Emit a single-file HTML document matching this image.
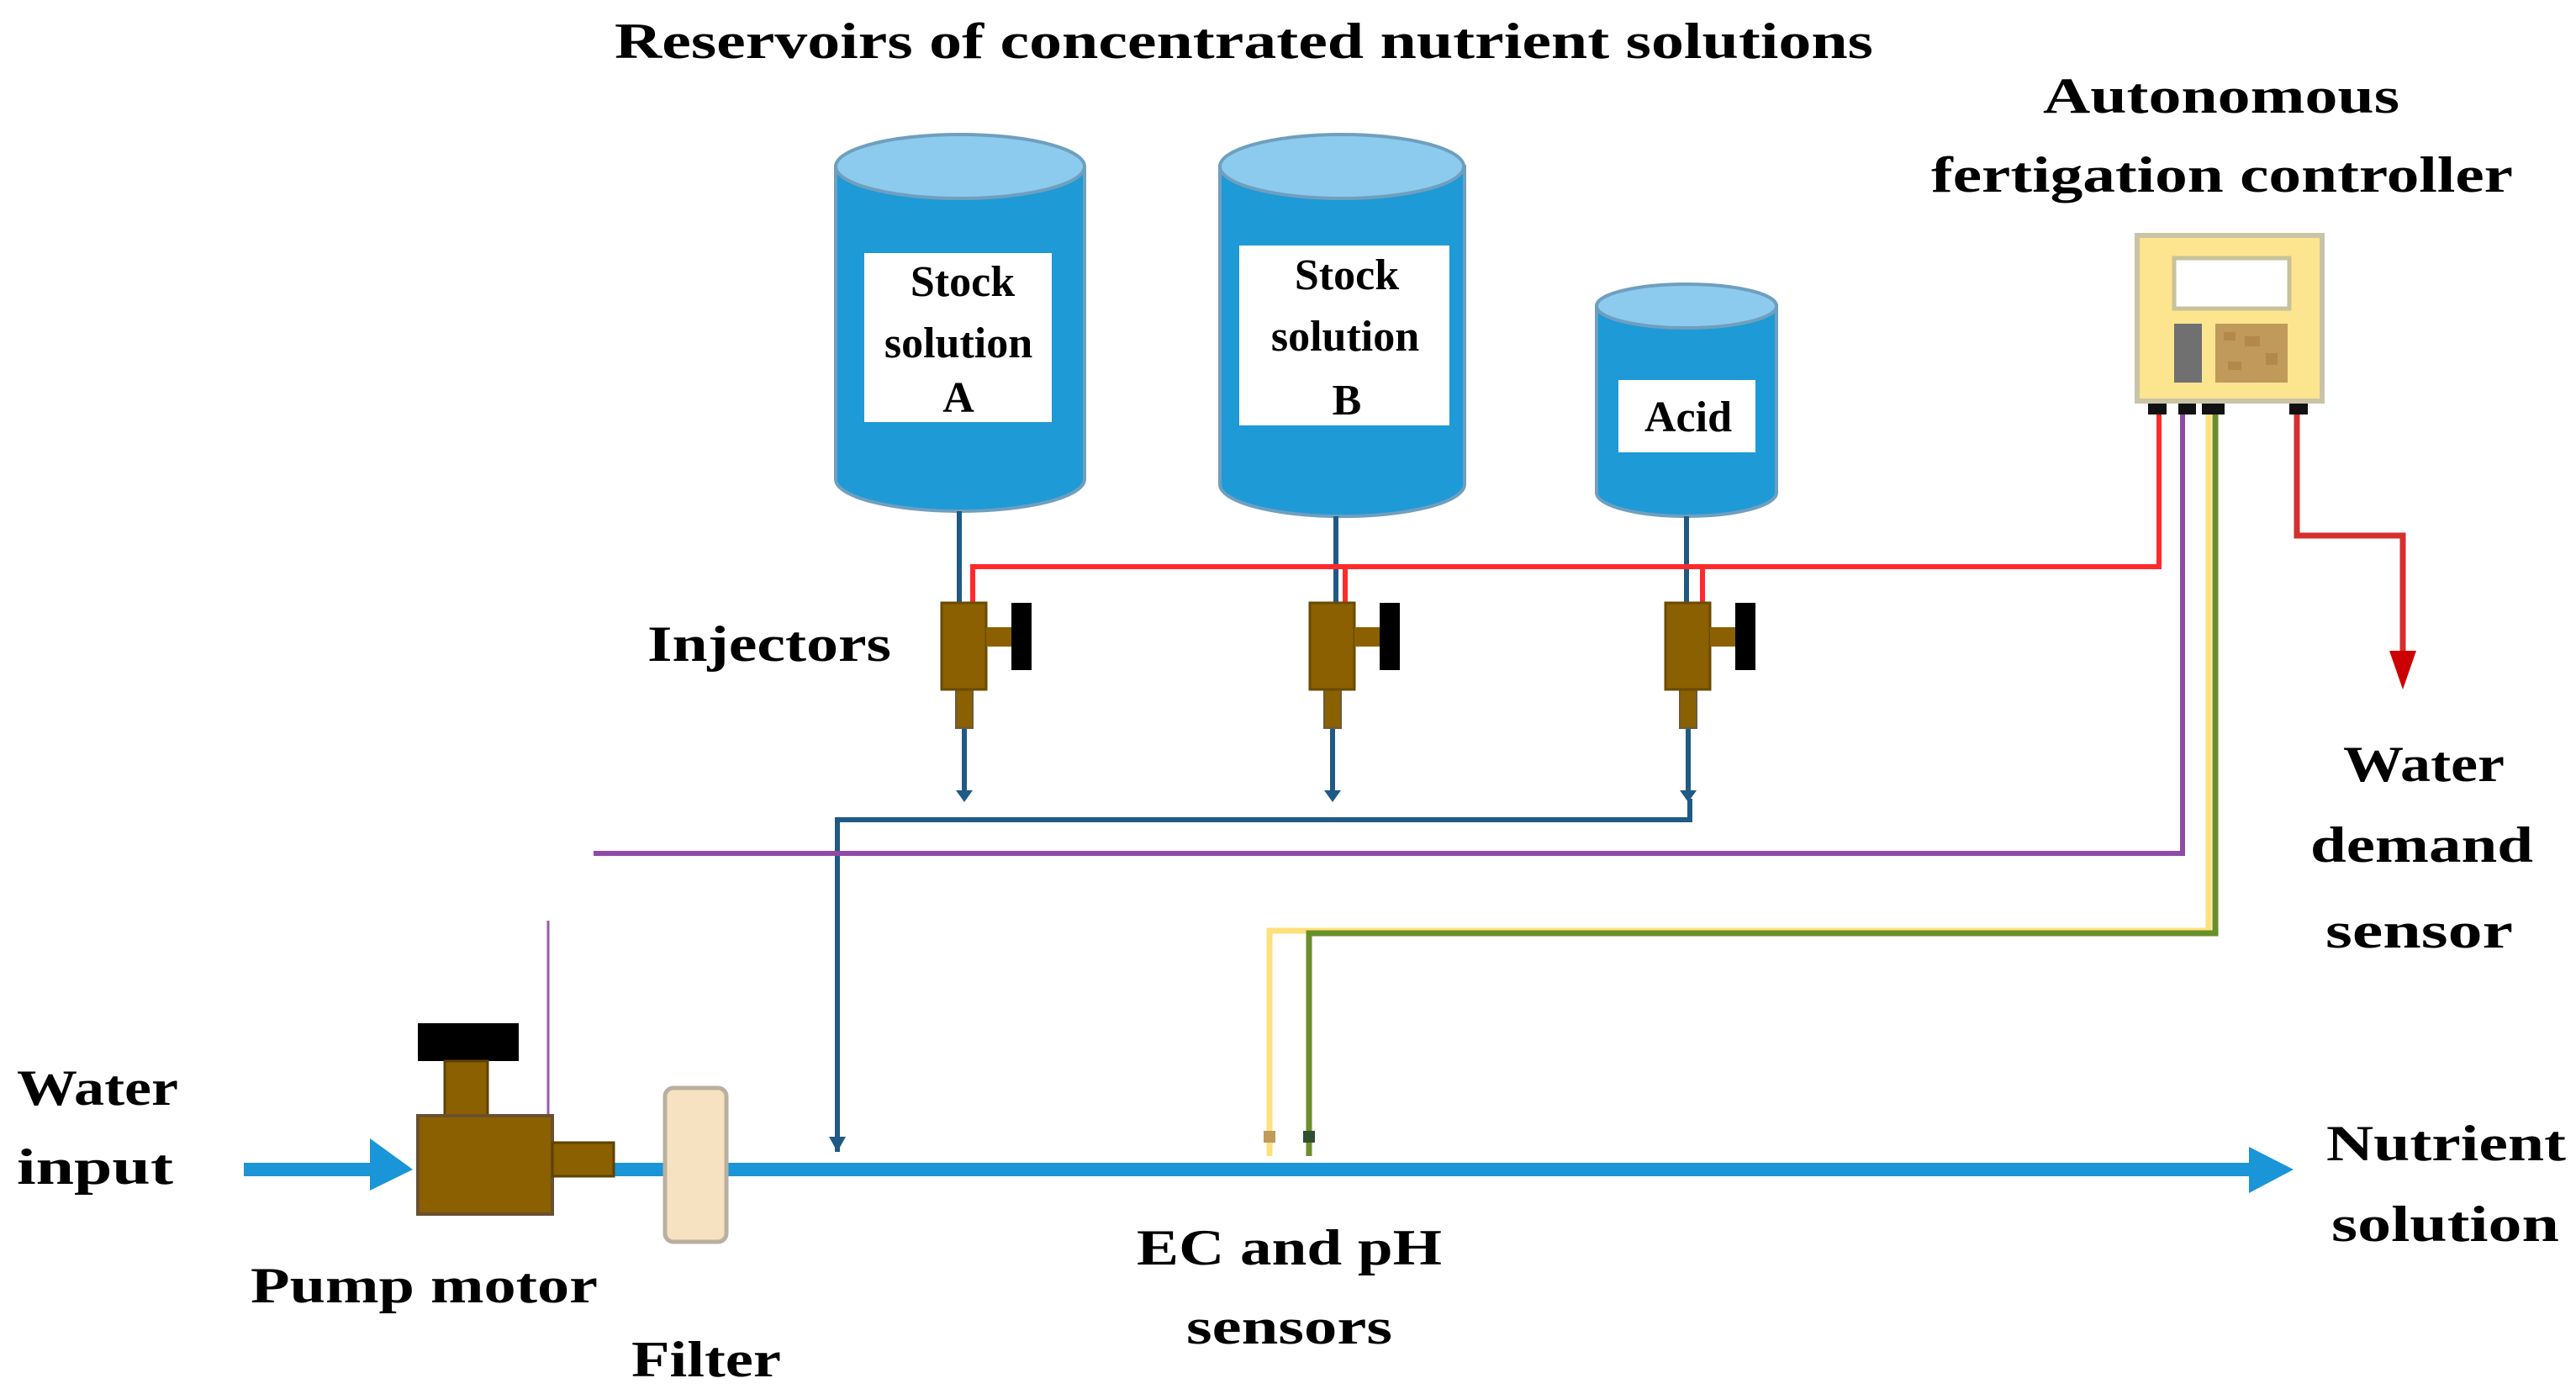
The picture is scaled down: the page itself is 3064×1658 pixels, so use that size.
<!DOCTYPE html>
<html><head><meta charset="utf-8"><style>html,body{margin:0;padding:0;background:#fff}svg{display:block}</style></head>
<body>
<svg width="3064" height="1658" viewBox="0 0 3064 1658" xmlns="http://www.w3.org/2000/svg" font-family="'Liberation Serif', serif" font-weight="bold" fill="#000">
<text x="731" y="69" font-size="60" textLength="1497" lengthAdjust="spacingAndGlyphs">Reservoirs of concentrated nutrient solutions</text>
<text x="2430" y="134" font-size="60" textLength="424" lengthAdjust="spacingAndGlyphs">Autonomous</text>
<text x="2297" y="228" font-size="60" textLength="692" lengthAdjust="spacingAndGlyphs">fertigation controller</text>

<g stroke="#6f9fbf" stroke-width="4">
  <path d="M994 198 V570 A148 38 0 0 0 1290 570 V198 Z" fill="#1e9ad6"/>
  <ellipse cx="1142" cy="198" rx="148" ry="38" fill="#8ccbee"/>
  <path d="M1451 198 V576 A145 38 0 0 0 1742 576 V198 Z" fill="#1e9ad6"/>
  <ellipse cx="1596" cy="198" rx="145" ry="38" fill="#8ccbee"/>
  <path d="M1899 364 V586 A107 28 0 0 0 2113 586 V364 Z" fill="#1e9ad6"/>
  <ellipse cx="2006" cy="364" rx="107" ry="26" fill="#8ccbee"/>
</g>
<rect x="1028" y="301" width="223" height="201" fill="#fff"/>
<rect x="1474" y="292" width="250" height="214" fill="#fff"/>
<rect x="1925" y="452" width="163" height="86" fill="#fff"/>
<g font-size="52" text-anchor="middle">
<text x="1145" y="352">Stock</text><text x="1140" y="425">solution</text><text x="1140" y="490">A</text>
<text x="1602" y="344">Stock</text><text x="1600" y="417">solution</text><text x="1602" y="493">B</text>
<text x="2008" y="513">Acid</text>
</g>

<g stroke="#1f5a86" stroke-width="6" fill="none">
  <path d="M1141 608 V720"/><path d="M1589 614 V720"/><path d="M2006 614 V720"/>
  <path d="M1147 866 V945"/><path d="M1585 866 V945"/><path d="M2008 866 V945"/>
  <path d="M996 1370 V975 H2010 V950"/>
</g>
<g fill="#1f5a86">
  <path d="M1137 940 h20 l-10 14 z"/><path d="M1575 940 h20 l-10 14 z"/><path d="M1998 940 h20 l-10 14 z"/>
  <path d="M986 1352 h20 l-10 18 z"/>
</g>

<g stroke="#ff2a2a" stroke-width="6" fill="none">
  <path d="M1157 717 V674 H2568 V493"/>
  <path d="M1600 674 V717"/><path d="M2025 674 V717"/>
</g>
<path d="M2732 493 V637 H2858 V790" stroke="#d62f2f" stroke-width="7" fill="none"/>
<path d="M2842 774 h32 l-16 46 z" fill="#cc0000"/>

<g id="inj">
  <rect x="1137" y="820" width="20" height="46" fill="#8a6000" stroke="#6b5a40" stroke-width="2"/>
  <rect x="1120" y="717" width="53" height="103" fill="#8a6000" stroke="#6b4a00" stroke-width="3"/>
  <rect x="1173" y="746" width="30" height="23" fill="#8a6000"/>
  <rect x="1203" y="717" width="24" height="80" fill="#000"/>
</g>
<use href="#inj" x="438"/>
<use href="#inj" x="861"/>

<text x="770" y="786" font-size="60" textLength="290" lengthAdjust="spacingAndGlyphs">Injectors</text>

<rect x="2542" y="280" width="220" height="197" fill="#fde48f" stroke="#c9c4a6" stroke-width="6"/>
<rect x="2586" y="307" width="137" height="60" fill="#fff" stroke="#c8c29a" stroke-width="5"/>
<rect x="2586" y="385" width="33" height="70" fill="#707070"/>
<rect x="2635" y="385" width="86" height="70" fill="#c09a5a"/>
<g fill="#b48848"><rect x="2645" y="395" width="14" height="10"/><rect x="2670" y="400" width="18" height="12"/><rect x="2695" y="420" width="14" height="14"/><rect x="2650" y="430" width="16" height="10"/></g>
<g fill="#111"><rect x="2555" y="480" width="22" height="13"/><rect x="2591" y="480" width="21" height="13"/><rect x="2619" y="480" width="27" height="13"/><rect x="2723" y="480" width="22" height="13"/></g>

<path d="M706 1015 H2596 V493" stroke="#8e4aa6" stroke-width="6" fill="none"/>
<path d="M652 1095 V1327" stroke="#9a5ab0" stroke-width="3"/>
<path d="M1510 1375 V1107 H2627 V493" stroke="#ffe07a" stroke-width="7" fill="none"/>
<path d="M1557 1375 V1110 H2635 V493" stroke="#6a8f2a" stroke-width="7" fill="none"/>
<rect x="1503" y="1345" width="14" height="14" fill="#c09a58"/>
<rect x="1550" y="1345" width="14" height="14" fill="#2f4f2f"/>

<path d="M290 1391 H450" stroke="#1a95d8" stroke-width="16"/>
<path d="M440 1354 L491 1391 L440 1416 Z" fill="#1a95d8"/>
<path d="M720 1391 H2680" stroke="#1a95d8" stroke-width="16"/>
<path d="M2675 1364 L2728 1391 L2675 1419 Z" fill="#1a95d8"/>

<rect x="497" y="1217" width="120" height="45" fill="#000"/>
<rect x="529" y="1262" width="51" height="65" fill="#8a6000" stroke="#5e4200" stroke-width="3"/>
<rect x="497" y="1327" width="160" height="117" fill="#8a6000" stroke="#6a5030" stroke-width="4"/>
<rect x="657" y="1359" width="73" height="40" fill="#8a6000" stroke="#5e4200" stroke-width="3"/>
<rect x="791" y="1294" width="73" height="183" rx="10" fill="#f6e2c0" stroke="#b8b0a0" stroke-width="5"/>

<g font-size="60">
<text x="20" y="1314" textLength="192" lengthAdjust="spacingAndGlyphs">Water</text>
<text x="20" y="1408" textLength="186" lengthAdjust="spacingAndGlyphs">input</text>
<text x="298" y="1549" textLength="413" lengthAdjust="spacingAndGlyphs">Pump motor</text>
<text x="751" y="1637" textLength="178" lengthAdjust="spacingAndGlyphs">Filter</text>
<text x="1352" y="1504" textLength="363" lengthAdjust="spacingAndGlyphs">EC and pH</text>
<text x="1411" y="1598" textLength="245" lengthAdjust="spacingAndGlyphs">sensors</text>
<text x="2767" y="1380" textLength="285" lengthAdjust="spacingAndGlyphs">Nutrient</text>
<text x="2773" y="1476" textLength="271" lengthAdjust="spacingAndGlyphs">solution</text>
<text x="2787" y="929" textLength="192" lengthAdjust="spacingAndGlyphs">Water</text>
<text x="2748" y="1025" textLength="265" lengthAdjust="spacingAndGlyphs">demand</text>
<text x="2766" y="1127" textLength="223" lengthAdjust="spacingAndGlyphs">sensor</text>
</g>
</svg>
</body></html>
